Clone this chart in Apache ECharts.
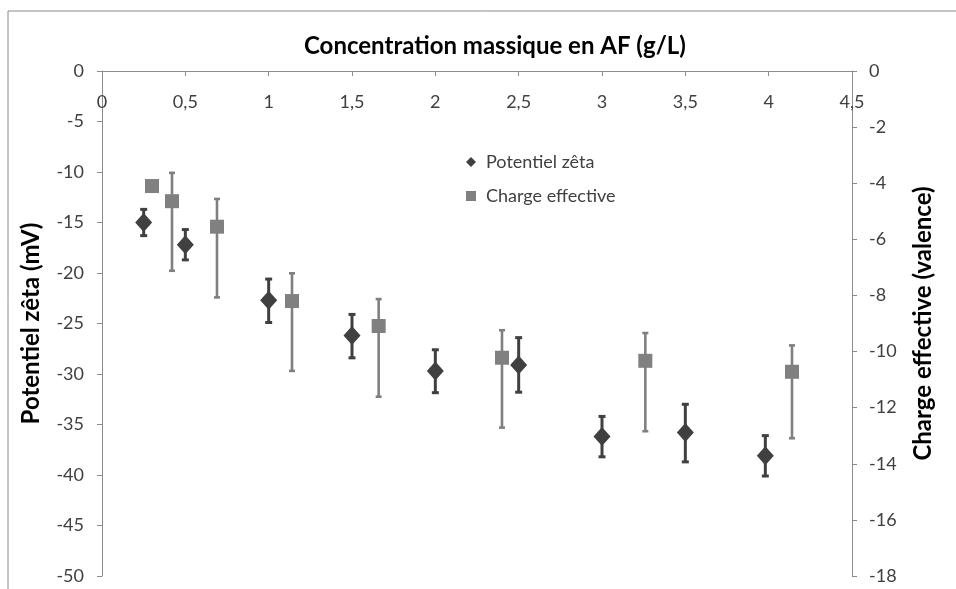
<!DOCTYPE html>
<html lang="fr">
<head>
    <meta charset="UTF-8">
    <title>Potentiel zêta / Charge effective</title>
    <script src="https://cdn.jsdelivr.net/npm/echarts@6/dist/echarts.min.js"></script>
    <style>
        body { margin: 0; background: #fff; }
        #main { width: 956px; height: 589px; }
    </style>
</head>
<body>
    <div id="main"></div>
    <script type="text/javascript">
    // data
    var zetaX = [0.25, 0.5, 1.0, 1.5, 2.0, 2.5, 3.0, 3.5, 3.98];
    var zetaY = [-15.0, -17.2, -22.7, -26.2, -29.7, -29.1, -36.2, -35.8, -38.1];
    var zetaErrUp = [1.3, 1.5, 2.1, 2.1, 2.1, 2.7, 2.0, 2.8, 2.0];
    var zetaErrDown = [1.3, 1.5, 2.2, 2.2, 2.15, 2.7, 2.0, 2.9, 2.0];

    var chargeX = [0.3, 0.42, 0.69, 1.14, 1.66, 2.4, 3.26, 4.14];
    var chargeY = [-4.1, -4.64, -5.55, -8.2, -9.09, -10.22, -10.33, -10.72];
    var chargeErrUp = [0, 1.01, 0.99, 0.99, 0.96, 0.98, 0.99, 0.94];
    var chargeErrDown = [0, 2.48, 2.52, 2.49, 2.52, 2.49, 2.51, 2.37];

    var dark = '#404040';
    var grey = '#808080';
    var axisGrey = '#8c8c8c';
    var font = 'Lato';

    function pairs(xs, ys, up, down) {
        return xs.map(function (x, i) { return up ? [x, ys[i], up[i], down[i]] : [x, ys[i]]; });
    }

    // error bar drawn with the axis scales
    function errorBar(color, width, cap) {
        return function (params, api) {
            var eu = api.value(2), ed = api.value(3);
            if (!eu && !ed) return null;
            var x = api.value(0), y = api.value(1);
            var hi = api.coord([x, y + eu]);
            var lo = api.coord([x, y - ed]);
            var st = { stroke: color, lineWidth: width };
            return {
                type: 'group',
                children: [
                    { type: 'line', shape: { x1: hi[0], y1: hi[1], x2: lo[0], y2: lo[1] }, style: st },
                    { type: 'line', shape: { x1: hi[0] - cap / 2, y1: hi[1], x2: hi[0] + cap / 2, y2: hi[1] }, style: st },
                    { type: 'line', shape: { x1: lo[0] - cap / 2, y1: lo[1], x2: lo[0] + cap / 2, y2: lo[1] }, style: st }
                ]
            };
        };
    }

    var labelStyle = { color: dark, fontFamily: font, fontSize: 18 };
    var nameStyle = { color: '#000', fontFamily: font, fontSize: 24, fontWeight: 'bold' };

    var option = {
        backgroundColor: '#fff',
        animation: false,
        textStyle: { fontFamily: font },
        title: {
            text: 'Concentration massique en AF (g/L)',
            left: 304,
            top: 34,
            padding: 0,
            textStyle: nameStyle
        },
        legend: {
            orient: 'vertical',
            left: 466,
            top: 153,
            padding: 0,
            itemGap: 16,
            itemWidth: 10,
            itemHeight: 10,
            textStyle: { color: dark, fontFamily: font, fontSize: 18, padding: [0, 0, 0, 5] },
            data: [
                { name: 'Potentiel zêta', icon: 'diamond' },
                { name: 'Charge effective', icon: 'rect' }
            ]
        },
        grid: { left: 102, right: 104, top: 71, bottom: 13 },
        xAxis: {
            type: 'value',
            position: 'top',
            min: 0,
            max: 4.5,
            interval: 0.5,
            axisLine: { onZero: false, lineStyle: { color: axisGrey } },
            axisTick: { inside: true, length: 5, lineStyle: { color: axisGrey } },
            axisLabel: Object.assign({
                inside: true,
                margin: 22,
                formatter: function (v) { return String(v).replace('.', ','); }
            }, labelStyle),
            splitLine: { show: false }
        },
        yAxis: [
            {
                type: 'value',
                position: 'left',
                min: -50,
                max: 0,
                interval: 5,
                name: 'Potentiel zêta (mV)',
                nameLocation: 'middle',
                nameRotate: 90,
                nameGap: 59,
                nameTextStyle: nameStyle,
                axisLine: { show: true, lineStyle: { color: axisGrey } },
                axisTick: { show: true, length: 5, lineStyle: { color: axisGrey } },
                axisLabel: Object.assign({ margin: 18 }, labelStyle),
                splitLine: { show: false }
            },
            {
                type: 'value',
                position: 'right',
                min: -18,
                max: 0,
                interval: 2,
                name: 'Charge effective (valence)',
                nameLocation: 'middle',
                nameRotate: 90,
                nameGap: 59,
                nameTextStyle: nameStyle,
                axisLine: { show: true, lineStyle: { color: axisGrey } },
                axisTick: { show: true, length: 5, lineStyle: { color: axisGrey } },
                axisLabel: Object.assign({ margin: 17 }, labelStyle),
                splitLine: { show: false }
            }
        ],
        graphic: [{
            type: 'rect',
            shape: { x: 8, y: 11, width: 970, height: 600 },
            style: { fill: 'none', stroke: '#8a8a8a', lineWidth: 1 },
            silent: true,
            z: -1
        }],
        series: [
            {
                name: 'zeta-err',
                type: 'custom',
                yAxisIndex: 0,
                renderItem: errorBar(dark, 3, 7),
                data: pairs(zetaX, zetaY, zetaErrUp, zetaErrDown),
                z: 2
            },
            {
                name: 'charge-err',
                type: 'custom',
                yAxisIndex: 1,
                renderItem: errorBar(grey, 2.6, 6),
                data: pairs(chargeX, chargeY, chargeErrUp, chargeErrDown),
                z: 2
            },
            {
                name: 'Potentiel zêta',
                type: 'scatter',
                yAxisIndex: 0,
                symbol: 'diamond',
                symbolSize: [17, 19],
                itemStyle: { color: dark, opacity: 1 },
                data: pairs(zetaX, zetaY),
                z: 3
            },
            {
                name: 'Charge effective',
                type: 'scatter',
                yAxisIndex: 1,
                symbol: 'rect',
                symbolSize: 14,
                itemStyle: { color: grey, opacity: 1 },
                data: pairs(chargeX, chargeY),
                z: 3
            }
        ]
    };

    var myChart = echarts.init(document.getElementById('main'));
    myChart.setOption(option);
    </script>
</body>
</html>
